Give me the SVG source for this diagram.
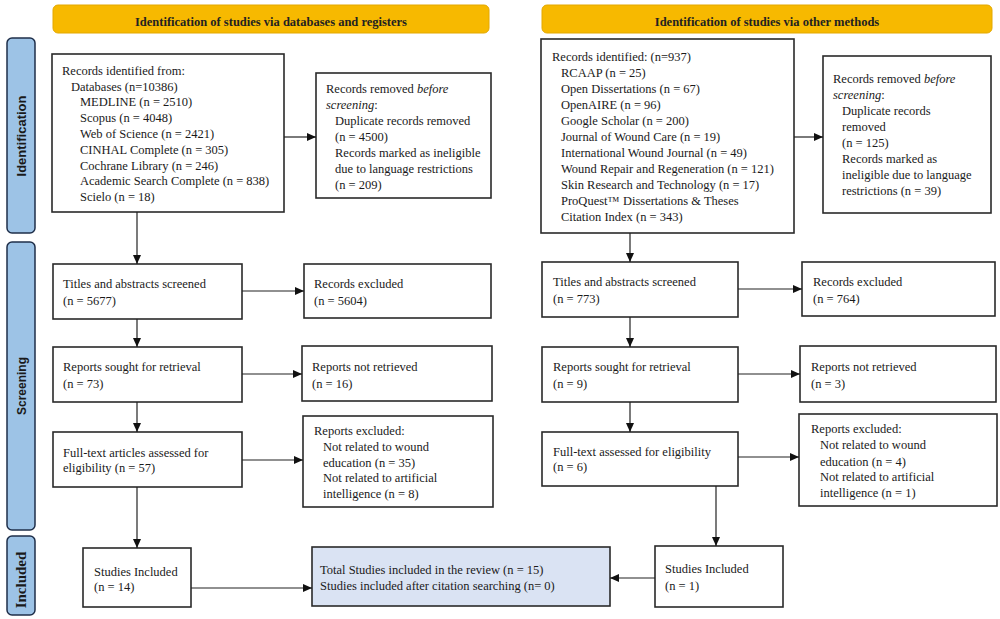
<svg xmlns="http://www.w3.org/2000/svg" width="1000" height="619" viewBox="0 0 1000 619">
<style>
.box{fill:#fff;stroke:#2a2a2a;stroke-width:1.6}
.tot{fill:#dae3f3;stroke:#2a2a2a;stroke-width:1.6}
.ban{fill:#f7b900;stroke:#e3a800;stroke-width:1}
.side{fill:#9dc3e6;stroke:#1f2f4a;stroke-width:1.5}
.t{font-family:"Liberation Serif","Times New Roman",serif;font-size:12.5px;fill:#1a1a1a}
.bt{font-family:"Liberation Serif","Times New Roman",serif;font-size:12.5px;font-weight:bold;fill:#222;text-anchor:middle}
.st{font-family:"Liberation Sans",Arial,sans-serif;font-size:13px;font-weight:bold;fill:#1a1a1a;text-anchor:middle}
.c{stroke:#222;stroke-width:1.2;fill:none;marker-end:url(#ah)}
</style>
<defs>
<marker id="ah" markerWidth="9" markerHeight="8" refX="9" refY="4" orient="auto" markerUnits="userSpaceOnUse">
<path d="M0,0 L9,4 L0,8 Z" fill="#111"/>
</marker>
</defs>
<rect width="1000" height="619" fill="#fff"/>

<g id="banner-left"><rect class="ban" x="53" y="5" width="436" height="28" rx="5"/><text class="bt" x="271" y="26">Identification of studies via databases and registers</text></g>
<g id="banner-right"><rect class="ban" x="542" y="5" width="450" height="28" rx="5"/><text class="bt" x="767" y="26">Identification of studies via other methods</text></g>

<g id="side-identification"><rect class="side" x="7" y="38" width="28" height="195" rx="5"/><text class="st" transform="translate(26,136) rotate(-90)">Identification</text></g>
<g id="side-screening"><rect class="side" x="7" y="242" width="28" height="288" rx="5"/><text class="st" style="font-size:12px" transform="translate(25.5,386) rotate(-90)">Screening</text></g>
<g id="side-included"><rect class="side" x="7" y="536" width="28" height="79" rx="5"/><text class="st" style="font-family:'Liberation Serif','Times New Roman',serif;font-size:15px" transform="translate(26,580) rotate(-90)">Included</text></g>

<g id="l-identified"><rect class="box" x="52" y="54" width="232" height="158"/>
<text class="t" x="62" y="75">Records identified from:</text>
<text class="t" x="71" y="91">Databases (n=10386)</text>
<text class="t" x="80" y="106">MEDLINE (n = 2510)</text>
<text class="t" x="80" y="122">Scopus (n = 4048)</text>
<text class="t" x="80" y="138">Web of Science (n = 2421)</text>
<text class="t" x="80" y="154">CINHAL Complete (n = 305)</text>
<text class="t" x="80" y="170">Cochrane Library (n = 246)</text>
<text class="t" x="80" y="185">Academic Search Complete (n = 838)</text>
<text class="t" x="80" y="201">Scielo (n = 18)</text>
</g>
<g id="l-removed"><rect class="box" x="316" y="73" width="175" height="125"/>
<text class="t" x="326" y="93">Records removed <tspan font-style="italic">before</tspan></text>
<text class="t" x="326" y="109"><tspan font-style="italic">screening</tspan>:</text>
<text class="t" x="335" y="125">Duplicate records removed</text>
<text class="t" x="335" y="141">(n = 4500)</text>
<text class="t" x="335" y="157">Records marked as ineligible</text>
<text class="t" x="335" y="173">due to language restrictions</text>
<text class="t" x="335" y="189">(n = 209)</text>
</g>
<g id="l-titles"><rect class="box" x="53" y="264" width="189" height="55"/>
<text class="t" x="63" y="288">Titles and abstracts screened</text><text class="t" x="63" y="305">(n = 5677)</text></g>
<g id="l-excluded"><rect class="box" x="304" y="264" width="187" height="54"/>
<text class="t" x="314" y="288">Records excluded</text><text class="t" x="314" y="305">(n = 5604)</text></g>
<g id="l-sought"><rect class="box" x="53" y="347" width="189" height="55"/>
<text class="t" x="63" y="371">Reports sought for retrieval</text><text class="t" x="63" y="388">(n = 73)</text></g>
<g id="l-notretrieved"><rect class="box" x="302" y="346" width="190" height="55"/>
<text class="t" x="312" y="371">Reports not retrieved</text><text class="t" x="312" y="388">(n = 16)</text></g>
<g id="l-fulltext"><rect class="box" x="53" y="432" width="189" height="55"/>
<text class="t" x="63" y="457">Full-text articles assessed for</text><text class="t" x="63" y="472">eligibility (n = 57)</text></g>
<g id="l-repexcluded"><rect class="box" x="303" y="416" width="190" height="91"/>
<text class="t" x="314" y="435">Reports excluded:</text>
<text class="t" x="323" y="451">Not related to wound</text>
<text class="t" x="323" y="467">education (n = 35)</text>
<text class="t" x="323" y="482">Not related to artificial</text>
<text class="t" x="323" y="498">intelligence (n = 8)</text>
</g>
<g id="l-included"><rect class="box" x="83" y="548" width="108" height="59"/>
<text class="t" x="94" y="576">Studies Included</text><text class="t" x="94" y="591">(n = 14)</text></g>
<g id="total"><rect class="tot" x="312" y="547" width="298" height="59"/>
<text class="t" x="320" y="574">Total Studies included in the review (n = 15)</text>
<text class="t" x="320" y="590">Studies included after citation searching (n= 0)</text></g>

<g id="r-identified"><rect class="box" x="541" y="39" width="253" height="194"/>
<text class="t" x="552" y="61">Records identified: (n=937)</text>
<text class="t" x="561" y="77">RCAAP (n = 25)</text>
<text class="t" x="561" y="93">Open Dissertations (n = 67)</text>
<text class="t" x="561" y="109">OpenAIRE (n = 96)</text>
<text class="t" x="561" y="125">Google Scholar (n = 200)</text>
<text class="t" x="561" y="141">Journal of Wound Care (n = 19)</text>
<text class="t" x="561" y="157">International Wound Journal (n = 49)</text>
<text class="t" x="561" y="173">Wound Repair and Regeneration (n = 121)</text>
<text class="t" x="561" y="189">Skin Research and Technology (n = 17)</text>
<text class="t" x="561" y="205">ProQuest™ Dissertations &amp; Theses</text>
<text class="t" x="561" y="221">Citation Index (n = 343)</text>
</g>
<g id="r-removed"><rect class="box" x="823" y="56" width="168" height="157"/>
<text class="t" x="833" y="83">Records removed <tspan font-style="italic">before</tspan></text>
<text class="t" x="833" y="99"><tspan font-style="italic">screening</tspan>:</text>
<text class="t" x="842" y="115">Duplicate records</text>
<text class="t" x="842" y="131">removed</text>
<text class="t" x="842" y="147">(n = 125)</text>
<text class="t" x="842" y="163">Records marked as</text>
<text class="t" x="842" y="179">ineligible due to language</text>
<text class="t" x="842" y="195">restrictions (n = 39)</text>
</g>
<g id="r-titles"><rect class="box" x="542" y="262" width="196" height="55"/>
<text class="t" x="553" y="286">Titles and abstracts screened</text><text class="t" x="553" y="303">(n = 773)</text></g>
<g id="r-excluded"><rect class="box" x="802" y="262" width="193" height="54"/>
<text class="t" x="813" y="286">Records excluded</text><text class="t" x="813" y="303">(n = 764)</text></g>
<g id="r-sought"><rect class="box" x="542" y="347" width="196" height="55"/>
<text class="t" x="553" y="371">Reports sought for retrieval</text><text class="t" x="553" y="388">(n = 9)</text></g>
<g id="r-notretrieved"><rect class="box" x="800" y="346" width="196" height="56"/>
<text class="t" x="811" y="371">Reports not retrieved</text><text class="t" x="811" y="388">(n = 3)</text></g>
<g id="r-fulltext"><rect class="box" x="542" y="432" width="196" height="54"/>
<text class="t" x="553" y="456">Full-text assessed for eligibility</text><text class="t" x="553" y="471">(n = 6)</text></g>
<g id="r-repexcluded"><rect class="box" x="799" y="414" width="198" height="92"/>
<text class="t" x="811" y="433">Reports excluded:</text>
<text class="t" x="820" y="449">Not related to wound</text>
<text class="t" x="820" y="466">education (n = 4)</text>
<text class="t" x="820" y="481">Not related to artificial</text>
<text class="t" x="820" y="497">intelligence (n = 1)</text>
</g>
<g id="r-included"><rect class="box" x="655" y="546" width="128" height="61"/>
<text class="t" x="665" y="573">Studies Included</text><text class="t" x="665" y="590">(n = 1)</text></g>

<g id="connectors">
<path class="c" d="M284,137 H316"/>
<path class="c" d="M137,212 V264"/>
<path class="c" d="M242,291 H304"/>
<path class="c" d="M137,319 V347"/>
<path class="c" d="M242,374 H302"/>
<path class="c" d="M137,402 V432"/>
<path class="c" d="M242,460 H303"/>
<path class="c" d="M137,487 V548"/>
<path class="c" d="M191,588 H312"/>
<path class="c" d="M794,137 H823"/>
<path class="c" d="M630,233 V262"/>
<path class="c" d="M738,289 H802"/>
<path class="c" d="M630,317 V347"/>
<path class="c" d="M738,374 H800"/>
<path class="c" d="M630,402 V432"/>
<path class="c" d="M738,457 H799"/>
<path class="c" d="M716,486 V546"/>
<path class="c" d="M655,578 H610"/>
</g>
</svg>
